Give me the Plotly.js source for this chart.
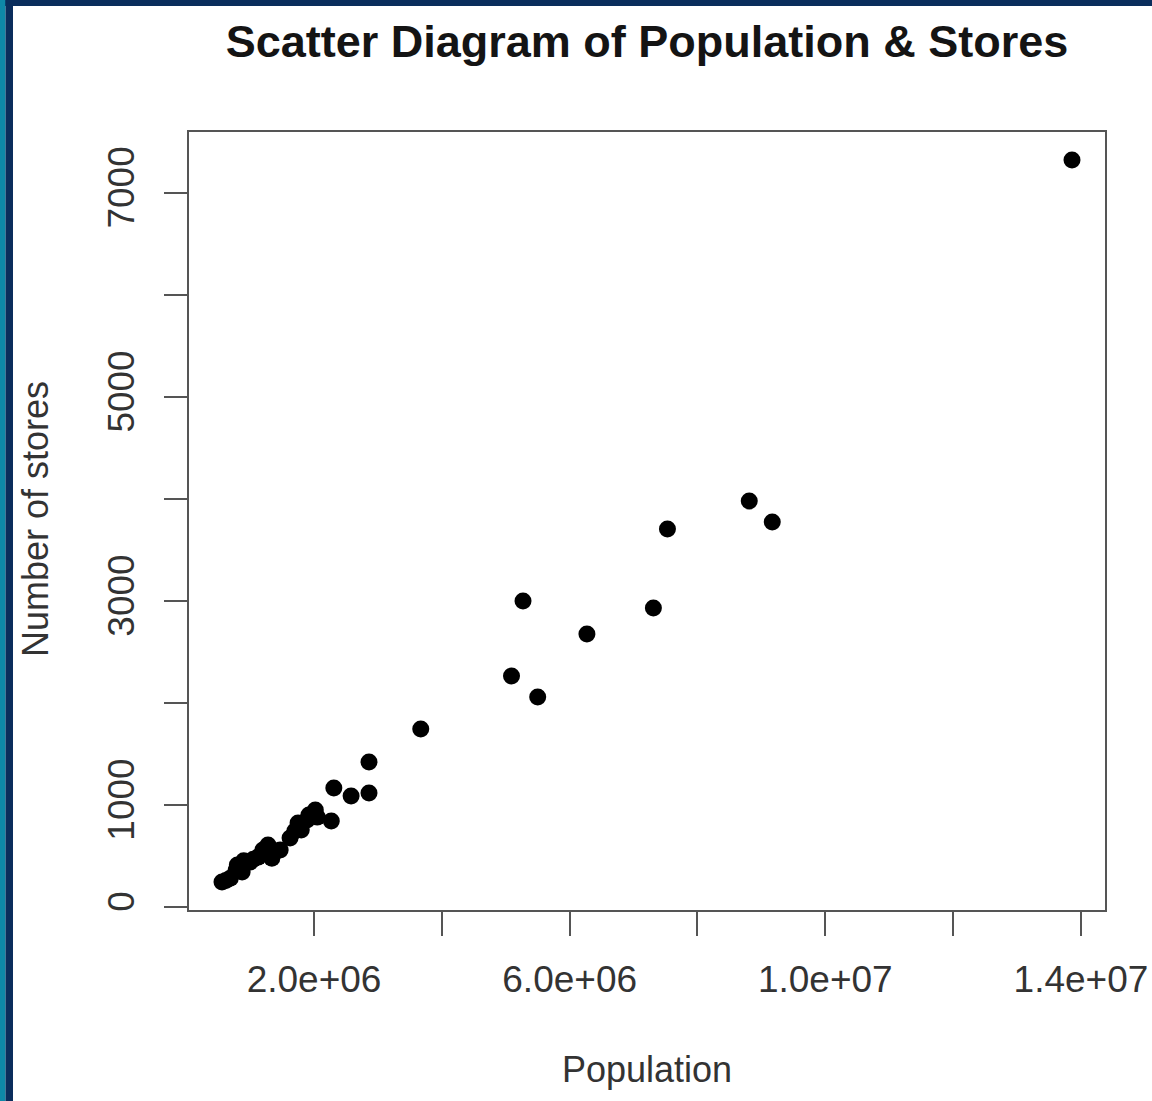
<!DOCTYPE html>
<html>
<head>
<meta charset="utf-8">
<script src="https://cdn.plot.ly/plotly-3.0.1.min.js"></script>
<style>html,body{margin:0;padding:0;background:#fff;overflow:hidden;}#chart{width:1152px;height:1101px;}</style>
</head>
<body>
<div id="chart"></div>
<script>
// Population of each area and number of stores
const population = [
  13860000, 8810000, 9170000, 7530000, 5270000, 7310000, 6270000, 5090000, 5500000,
  3670000, 2860000, 2310000, 2580000, 2860000,
  2270000, 2020000, 2050000, 1920000, 1890000, 1750000, 1800000, 1700000, 1625000,
  1470000, 1340000, 1280000, 1200000, 1125000, 1050000, 1000000, 900000, 875000,
  800000, 780000, 690000, 560000, 620000
];
const stores = [
  7324, 3980, 3775, 3706, 3000, 2931, 2676, 2265, 2059,
  1745, 1422, 1167, 1088, 1118,
  843, 951, 882, 902, 853, 824, 755, 745, 677,
  559, 480, 608, 560, 490, 470, 441, 455, 343,
  412, 360, 284, 245, 260
];
const xTickVals = [2e6, 4e6, 6e6, 8e6, 10e6, 12e6, 14e6];
const xTickText = ["2.0e+06", "", "6.0e+06", "", "1.0e+07", "", "1.4e+07"];
const yTickVals = [0, 1000, 2000, 3000, 4000, 5000, 6000, 7000];
const yTickText = ["0", "1000", "", "3000", "", "5000", "", "7000"];

const chartTitle = "Scatter Diagram of Population & Stores";
const xTitle = "Population";
const yTitle = "Number of stores";

function padRange(arr) {
  const mn = Math.min(...arr), mx = Math.max(...arr);
  const d = (mx - mn) * 0.04;
  return [mn - d, mx + d];
}

const L = 188, R = 1106, T = 131, B = 911, W = 1152, H = 1101;
const px = v => (v - L) / (R - L);
const py = v => (B - v) / (B - T);

const font = '"Liberation Sans", Arial, Helvetica, sans-serif';
const axisColor = '#555555';
const textColor = '#333333';

const trace = {
  type: 'scatter',
  mode: 'markers',
  x: population,
  y: stores,
  marker: {color: '#000000', size: 17, line: {width: 0}},
  cliponaxis: false,
  hoverinfo: 'x+y'
};

const layout = {
  width: W, height: H,
  margin: {l: L, r: W - R, t: T, b: H - B, pad: 0},
  paper_bgcolor: '#ffffff',
  plot_bgcolor: '#ffffff',
  showlegend: false,
  font: {family: font, color: textColor},
  title: {
    text: chartTitle,
    font: {family: font, size: 45, color: '#141414', weight: 'bold'},
    x: px(647), xref: 'paper', xanchor: 'center',
    y: 1 - 41 / H, yref: 'container', yanchor: 'middle'
  },
  xaxis: {
    range: padRange(population),
    showgrid: false, zeroline: false, showline: false,
    tickmode: 'array', tickvals: xTickVals, ticktext: xTickText,
    ticks: 'outside', ticklen: 24, tickwidth: 2, tickcolor: axisColor,
    tickfont: {family: font, size: 37, color: textColor},
    ticklabelstandoff: 12,
    title: {text: ''}
  },
  yaxis: {
    range: padRange(stores),
    showgrid: false, zeroline: false, showline: false,
    tickmode: 'array', tickvals: yTickVals, ticktext: yTickText,
    ticks: 'outside', ticklen: 23, tickwidth: 2, tickcolor: axisColor,
    tickangle: -90,
    tickfont: {family: font, size: 37, color: textColor},
    ticklabelstandoff: 15,
    title: {text: ''}
  },
  shapes: [
    {type: 'rect', xref: 'paper', yref: 'paper', x0: 0, x1: 1, y0: 0, y1: 1,
     line: {color: axisColor, width: 2}, fillcolor: 'rgba(0,0,0,0)', layer: 'above'},
    // screenshot frame
    {type: 'rect', xref: 'paper', yref: 'paper', x0: px(0), x1: px(W), y0: py(0), y1: py(6),
     line: {width: 0}, fillcolor: '#0a2d5c', layer: 'above'},
    {type: 'rect', xref: 'paper', yref: 'paper', x0: px(0), x1: px(5.5), y0: py(0), y1: py(H),
     line: {width: 0}, fillcolor: '#0e88a8', layer: 'above'},
    {type: 'rect', xref: 'paper', yref: 'paper', x0: px(5.5), x1: px(13), y0: py(0), y1: py(H),
     line: {width: 0}, fillcolor: '#0a2d5c', layer: 'above'}
  ],
  annotations: [
    {text: xTitle, xref: 'paper', yref: 'paper', x: px(647), y: py(1069),
     xanchor: 'center', yanchor: 'middle', showarrow: false,
     font: {family: font, size: 36, color: textColor}},
    {text: yTitle, xref: 'paper', yref: 'paper', x: px(35), y: py(519),
     xanchor: 'center', yanchor: 'middle', showarrow: false, textangle: -90,
     font: {family: font, size: 36, color: textColor}}
  ]
};

Plotly.newPlot('chart', [trace], layout, {displayModeBar: false, staticPlot: true});
</script>
</body>
</html>
